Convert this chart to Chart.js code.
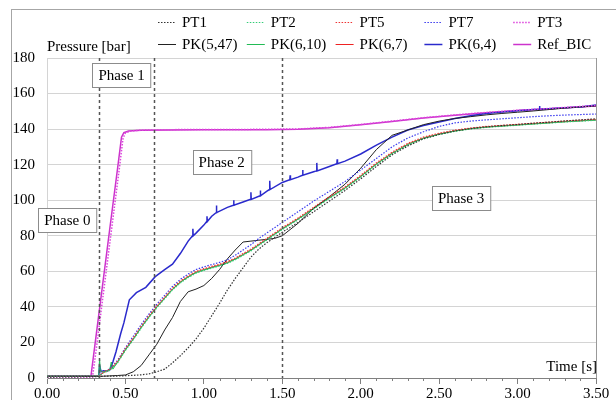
<!DOCTYPE html>
<html>
<head>
<meta charset="utf-8">
<script src="https://cdn.jsdelivr.net/npm/chart.js@4"></script>
<style>
html, body { margin: 0; padding: 0; background: #fff; }
</style>
</head>
<body>
<canvas id="pressureChart" width="616" height="400"></canvas>
<script>
// Data

var time = [0, 0.33, 0.36, 0.40, 0.45,
  0.50, 0.55, 0.60, 0.65, 0.70, 0.75, 0.80, 0.85, 0.90, 0.95, 1.00, 1.05, 1.10, 1.15, 1.20, 1.25, 1.30, 1.35, 1.40, 1.45, 1.50,
  1.60, 1.70, 1.80, 1.90, 2.00, 2.10, 2.20, 2.30, 2.40, 2.50, 2.60, 2.70, 2.80, 2.90, 3.00, 3.10, 3.20, 3.30, 3.40, 3.50];

var pt1 = [0.5, 0.8, 1, 1, 1.1,
  1.3, 1.5, 1.8, 2.3, 3.5, 5, 8.5, 12.5, 17, 22, 28, 35, 42, 49.5, 56, 62, 68, 72.5, 76, 79, 82,
  87.5, 93.5, 99.5, 105.5, 112, 119, 125.5, 130.5, 134.5, 137, 139, 140.3, 141.3, 142, 142.6, 143.3, 143.9, 144.6, 145.2, 145.8];

var pt2 = [1, 1, 3, 4.2, 8.5,
  15.5, 21.5, 28, 34, 39.5, 44.5, 49.5, 53.5, 56.5, 59, 60.5, 61.8, 63, 64.5, 66.5, 69, 71.5, 74.5, 77.5, 80.5, 83.5,
  89, 95, 101, 106.5, 113, 120, 126, 131, 134.7, 137, 138.8, 140.1, 141, 141.6, 142.2, 142.8, 143.4, 144, 144.5, 145];

var pt5 = [1, 1, 3.5, 4.8, 9.5,
  16.5, 22.5, 29, 35, 40.5, 45.5, 50.5, 54.5, 57.5, 60, 61.5, 62.8, 64, 65.5, 67.5, 70, 72.5, 75.5, 78.5, 81.5, 84.5,
  90, 96, 102, 107.5, 114, 121, 127, 132, 135.5, 137.7, 139.4, 140.6, 141.5, 142.1, 142.7, 143.3, 143.9, 144.5, 145, 145.5];

var pt7 = [1, 1, 3.5, 5, 10,
  17, 23.5, 30, 36, 41.5, 46.5, 51.5, 55.5, 58.5, 61, 62.5, 63.8, 65, 66.5, 69, 72, 75, 78.5, 81.5, 84.5, 87.5,
  93.5, 99.5, 105, 110.5, 117, 123.5, 130, 135, 138.5, 141.5, 143.5, 144.5, 145.2, 145.8, 146.4, 147, 147.5, 147.9, 148.2, 148.5];

var pk547 = [1, 1, 1, 1.2, 1.4,
  1.7, 3.5, 7, 13, 19, 27, 34, 43, 48.5, 50, 52, 56, 61, 67, 72, 76.5, 77, 77.5, 78, 78.5, 80,
  87, 95.5, 102, 109, 118, 128.5, 136.5, 139.5, 142.5, 144.5, 146, 147, 148, 148.8, 149.5, 150.2, 151, 151.8, 152.5, 153];

var pk67 = [1, 1, 3, 4.5, 9,
  16, 22, 28.5, 34.5, 40, 45, 50, 54, 57, 59.5, 61, 62.3, 63.5, 65, 67, 69.5, 72, 75, 78, 81, 84,
  89.5, 95.5, 101.5, 107, 113.5, 120.5, 126.5, 131.5, 135, 137.3, 139, 140.3, 141.2, 141.8, 142.4, 143, 143.6, 144.2, 144.7, 145.2];

var timePk610 = [0, 0.33, 0.335, 0.34, 0.36, 0.40, 0.41, 0.42, 0.45,
  0.50, 0.55, 0.60, 0.65, 0.70, 0.75, 0.80, 0.85, 0.90, 0.95, 1.00, 1.05, 1.10, 1.15, 1.20, 1.25, 1.30, 1.35, 1.40, 1.45, 1.50,
  1.60, 1.70, 1.80, 1.90, 2.00, 2.10, 2.20, 2.30, 2.40, 2.50, 2.60, 2.70, 2.80, 2.90, 3.00, 3.10, 3.20, 3.30, 3.40, 3.50];
var pk610 = [1, 1, 11, 4, 3.5, 4.5, 9, 5, 9,
  15.8, 21.8, 28.3, 34.3, 39.8, 44.8, 49.8, 53.8, 56.8, 59.3, 60.8, 62, 63.3, 64.8, 66.8, 69.3, 71.8, 74.8, 77.8, 80.8, 83.8,
  89.3, 95.3, 101.3, 106.8, 113.3, 120.3, 126.3, 131.3, 134.8, 137.1, 138.9, 140.2, 141.1, 141.7, 142.3, 142.9, 143.5, 144.1, 144.6, 145.1];

var timePk64 = [0, 0.33, 0.335, 0.345, 0.36, 0.38, 0.40, 0.42, 0.44, 0.47, 0.49, 0.525, 0.57, 0.63, 0.69, 0.75, 0.80, 0.85, 0.90,
  0.928, 0.93, 0.932, 0.95, 1.00, 1.018, 1.02, 1.022, 1.05, 1.078, 1.08, 1.082, 1.15, 1.188, 1.19, 1.192, 1.25,
  1.298, 1.30, 1.302, 1.358, 1.36, 1.362, 1.40, 1.418, 1.42, 1.422, 1.50, 1.548, 1.55, 1.552, 1.60, 1.628, 1.63, 1.632, 1.70,
  1.718, 1.72, 1.722, 1.80, 1.848, 1.85, 1.852, 1.90, 2.00, 2.10, 2.20, 2.30, 2.40, 2.50, 2.60, 2.70, 2.80, 2.90, 3.00, 3.10,
  3.138, 3.14, 3.142, 3.20, 3.30, 3.40, 3.50];
var pk64 = [1, 1, 7, 3.5, 4, 3.8, 4.5, 9, 14.8, 25, 31, 44, 48, 51, 57, 61, 64, 70, 77,
  80, 84, 80, 81.5, 86, 88, 91, 88, 91, 93, 97, 93, 96, 97.2, 100, 97.2, 99,
  100.5, 104.5, 100.5, 102.5, 105.5, 102.5, 105, 106, 111, 106, 110, 111.5, 114, 111.5, 113, 114, 117, 114, 116,
  116.5, 121, 116.5, 119, 120.5, 123, 120.5, 122, 126, 131, 135.5, 139.5, 142, 144, 146, 147.5, 148.8, 149.6, 150.3, 151,
  151.2, 153, 151.2, 151.5, 152, 152.5, 153.5];

var timeRef = [0, 0.28, 0.30, 0.35, 0.40, 0.45, 0.475, 0.49, 0.52, 0.60, 0.80, 1.00, 1.20, 1.40, 1.60, 1.80, 2.00, 2.20, 2.40, 2.60, 2.80, 3.00, 3.20, 3.50];
var refBic = [1, 1, 14.8, 49.3, 83.8, 118, 135.5, 138, 138.9, 139.3, 139.5, 139.6, 139.6, 139.7, 139.9, 140.8, 142.4, 144.3, 146.2, 147.8, 149.2, 150.4, 151.4, 153];

var timePt3 = [0, 0.29, 0.31, 0.36, 0.41, 0.46, 0.485, 0.50, 0.53, 0.60, 0.80, 1.00, 1.20, 1.40, 1.60, 1.80, 2.00, 2.20, 2.40, 2.60, 2.80, 3.00, 3.20, 3.50];
var pt3 = [0.5, 0.5, 13.5, 48, 82.5, 117, 135, 137.8, 138.9, 139.4, 139.7, 139.8, 139.8, 139.9, 140.1, 141, 142.6, 144.5, 146.4, 148, 149.4, 150.6, 151.6, 153.3];

var phaseTimes = [0.33, 0.68, 1.50];
var phaseNames = ['Phase 0', 'Phase 1', 'Phase 2', 'Phase 3'];

function pairs(t, p) {
  return t.map(function(v, i) { return { x: v, y: p[i] }; });
}

function series(label, t, p, color, dotted, width) {
  return {
    label: label,
    data: pairs(t, p),
    borderColor: color,
    backgroundColor: color,
    borderWidth: width || 1,
    borderDash: dotted ? [1.5, 1.5] : [],
    pointRadius: 0,
    fill: false,
    tension: 0
  };
}

var serif = '"Liberation Serif", "DejaVu Serif", serif';

// Phase lines, boxes, titles and the legend
var overlay = {
  id: 'overlay',
  beforeDraw: function(chart) {
    var ctx = chart.ctx;
    ctx.save();
    ctx.fillStyle = '#fff';
    ctx.fillRect(0, 0, chart.width, chart.height);
    ctx.strokeStyle = '#a6a6a6';
    ctx.lineWidth = 1;
    ctx.strokeRect(11.5, 9.5, 700, 500);
    ctx.restore();
  },
  afterDatasetsDraw: function(chart) {
    var ctx = chart.ctx, xs = chart.scales.x, ys = chart.scales.y, a = chart.chartArea;
    ctx.save();
    ctx.strokeStyle = '#555';
    ctx.lineWidth = 1.5;
    ctx.setLineDash([3, 3]);
    phaseTimes.forEach(function(t) {
      var px = Math.round(xs.getPixelForValue(t)) + 0.5;
      ctx.beginPath();
      ctx.moveTo(px, ys.getPixelForValue(180));
      ctx.lineTo(px, ys.getPixelForValue(0));
      ctx.stroke();
    });
    ctx.setLineDash([]);
    ctx.strokeStyle = '#999';
    ctx.lineWidth = 1;
    ctx.beginPath();
    ctx.moveTo(a.right + 0.5, a.top);
    ctx.lineTo(a.right + 0.5, a.bottom);
    ctx.stroke();
    // minor ticks
    ctx.strokeStyle = '#808080';
    for (var i = 1; i < 35; i++) {
      if (i % 5 === 0) continue;
      var mx = Math.round(xs.getPixelForValue(i / 10)) + 0.5;
      ctx.beginPath();
      ctx.moveTo(mx, a.bottom);
      ctx.lineTo(mx, a.bottom + 3);
      ctx.stroke();
    }
    ctx.restore();
  },
  afterDraw: function(chart) {
    var ctx = chart.ctx, xs = chart.scales.x, ys = chart.scales.y;
    ctx.save();
    ctx.font = '15px ' + serif;
    ctx.textBaseline = 'middle';
    ctx.fillStyle = '#000';

    // phase boxes
    var boxAt = [[0.13, 89], [0.475, 170.5], [1.114, 121.5], [2.64, 101]];
    phaseNames.forEach(function(name, i) {
      var cx = xs.getPixelForValue(boxAt[i][0]);
      var cy = ys.getPixelForValue(boxAt[i][1]);
      var w = ctx.measureText(name).width + 12, h = 24;
      var bx = Math.round(cx - w / 2) + 0.5, by = Math.round(cy - h / 2) + 0.5;
      ctx.fillStyle = '#fff';
      ctx.fillRect(bx, by, w, h);
      ctx.strokeStyle = '#8c8c8c';
      ctx.lineWidth = 1;
      ctx.strokeRect(bx, by, w, h);
      ctx.fillStyle = '#000';
      ctx.textAlign = 'center';
      ctx.fillText(name, cx, cy + 1);
    });

    // axis titles
    ctx.textAlign = 'left';
    ctx.fillText('Pressure [bar]', 47, 47);
    ctx.textAlign = 'right';
    ctx.fillText('Time [s]', 597, 367);

    // legend, 5 columns x 2 rows
    ctx.textAlign = 'left';
    chart.data.datasets.forEach(function(ds, i) {
      var col = i % 5, row = Math.floor(i / 5);
      var lx = 158 + col * 88.8, ly = row === 0 ? 22.5 : 44.5;
      ctx.strokeStyle = ds.borderColor;
      ctx.lineWidth = ds.borderWidth;
      ctx.setLineDash(ds.borderDash);
      ctx.beginPath();
      ctx.moveTo(lx, ly);
      ctx.lineTo(lx + 18, ly);
      ctx.stroke();
      ctx.setLineDash([]);
      ctx.fillStyle = '#000';
      ctx.fillText(ds.label, lx + 24, ly + 1);
    });
    ctx.restore();
  }
};

var ctx1 = document.getElementById('pressureChart').getContext('2d');
var pressureChart = new Chart(ctx1, {
  type: 'line',
  data: {
    datasets: [
      series('PT1', time, pt1, '#333333', true, 1.2),
      series('PT2', time, pt2, '#33cc77', true, 1.2),
      series('PT5', time, pt5, '#ee3333', true, 1.2),
      series('PT7', time, pt7, '#3a3aee', true, 1.2),
      series('PT3', timePt3, pt3, '#dd44dd', true, 1.5),
      series('PK(5,47)', time, pk547, '#222222', false, 1),
      series('PK(6,10)', timePk610, pk610, '#22bb55', false, 1),
      series('PK(6,7)', time, pk67, '#ee2222', false, 1),
      series('PK(6,4)', timePk64, pk64, '#2a2acc', false, 1.5),
      series('Ref_BIC', timeRef, refBic, '#cc33cc', false, 1.5)
    ]
  },
  options: {
    responsive: false,
    animation: false,
    layout: { padding: { top: 58, right: 20, left: 0, bottom: 0 } },
    plugins: {
      legend: { display: false },
      tooltip: { enabled: false }
    },
    scales: {
      x: {
        type: 'linear',
        min: 0,
        max: 3.5,
        afterFit: function(s) { s.height = 22; },
        ticks: {
          stepSize: 0.5,
          padding: 1,
          color: '#000',
          font: { family: serif, size: 15 },
          maxRotation: 0,
          callback: function(v) { return v.toFixed(2); }
        },
        grid: { drawOnChartArea: false, tickLength: 6, color: '#808080' },
        border: { color: '#808080' }
      },
      y: {
        min: 0,
        max: 180,
        afterFit: function(s) { s.width = 47; },
        ticks: {
          stepSize: 20,
          padding: 12,
          color: '#000',
          font: { family: serif, size: 15 }
        },
        grid: { color: '#d4d4d4', drawTicks: false },
        border: { color: '#d4d4d4' }
      }
    }
  },
  plugins: [overlay]
});
</script>
</body>
</html>
